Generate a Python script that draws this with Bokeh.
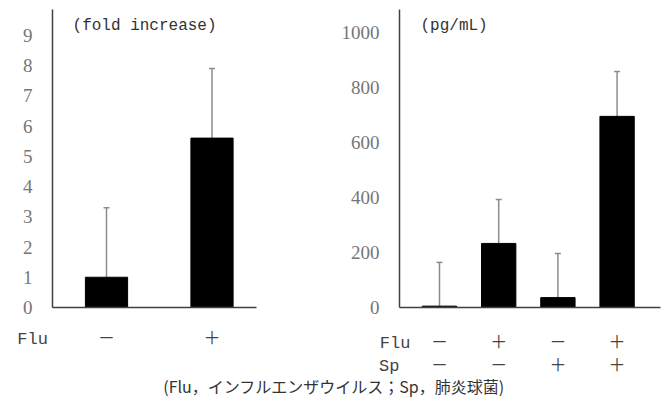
from bokeh.plotting import figure
from bokeh.models import (ColumnDataSource, Whisker, TeeHead, Label, FixedTicker, Range1d,
                          LinearAxis)
from bokeh.embed import file_html
from bokeh.resources import INLINE

# ---- data ----
left_x = [1, 2]
left_flu = ["－", "＋"]
left_mean = [1.0, 5.6]
left_sd = [2.3, 2.3]
left_ticks = [0, 1, 2, 3, 4, 5, 6, 7, 8, 9]
left_unit = "(fold increase)"

right_x = [1, 2, 3, 4]
right_flu = ["－", "＋", "－", "＋"]
right_sp = ["－", "－", "＋", "＋"]
right_mean = [5, 233, 36, 695]
right_sd = [159, 160, 160, 163]
right_ticks = [0, 200, 400, 600, 800, 1000]
right_unit = "(pg/mL)"

caption = "(Flu，インフルエンザウイルス；Sp，肺炎球菌)"

AX = "#404040"
TICK = "#767676"
ERR = "#8c8c8c"
SIGN_FONT = "Liberation Mono, Noto Sans CJK JP"

# one canvas, two coordinate systems (left panel: default ranges, right panel: "r")
p = figure(width=667, height=408, toolbar_location=None, output_backend="svg",
           x_range=Range1d(-0.00474, 6.3175), y_range=Range1d(-3.339, 10.149),
           x_axis_type=None, y_axis_type=None)
p.extra_x_ranges = {"r": Range1d(-6.4155, 4.8514)}
p.extra_y_ranges = {"r": Range1d(-367.27, 1116.36)}
p.min_border = 0
p.outline_line_color = None
p.grid.grid_line_color = None


def panel(xs, means, sds, bw, rn):
    kw = {} if rn is None else dict(x_range_name=rn, y_range_name=rn)
    src = ColumnDataSource(dict(x=xs, top=means, upper=[m + s for m, s in zip(means, sds)]))
    p.add_layout(Whisker(source=src, base="x", lower="top", upper="upper",
                         line_color=ERR, line_width=1.5,
                         upper_head=TeeHead(size=6, line_color=ERR, line_width=1.5),
                         lower_head=None, **kw))
    p.vbar(x="x", top="top", width=bw, bottom=0, source=src,
           fill_color="black", line_color="black", **kw)


def yaxis(loc, top, ticks, rn):
    kw = {} if rn is None else dict(x_range_name=rn, y_range_name=rn)
    a = LinearAxis(fixed_location=loc, bounds=(0, top), ticker=FixedTicker(ticks=ticks), **kw)
    a.axis_line_color = AX
    a.axis_line_width = 1.5
    a.major_tick_line_color = None
    a.minor_tick_line_color = None
    a.major_label_text_font = "Liberation Serif"
    a.major_label_text_font_size = "19px"
    a.major_label_text_color = TICK
    a.major_label_standoff = 14
    p.add_layout(a, "left")


def baseline(x0, x1, rn):
    kw = {} if rn is None else dict(x_range_name=rn, y_range_name=rn)
    a = LinearAxis(fixed_location=0, bounds=(x0, x1), ticker=FixedTicker(ticks=[]), **kw)
    a.axis_line_color = AX
    a.axis_line_width = 1.5
    a.major_tick_line_color = None
    a.minor_tick_line_color = None
    p.add_layout(a, "below")


def label_row(header_x, header, xs, signs, standoff, rn):
    kw = {} if rn is None else dict(x_range_name=rn, y_range_name=rn)
    ticks = [header_x] + list(xs)
    a = LinearAxis(fixed_location=0, ticker=FixedTicker(ticks=ticks), **kw)
    a.major_label_overrides = {t: s for t, s in zip(ticks, [header] + list(signs))}
    a.axis_line_color = None
    a.major_tick_line_color = None
    a.minor_tick_line_color = None
    a.major_label_text_font = SIGN_FONT
    a.major_label_text_font_size = "17px"
    a.major_label_text_color = "#444444"
    a.major_label_standoff = standoff
    p.add_layout(a, "below")


# left panel
panel(left_x, left_mean, left_sd, 0.4, None)
yaxis(0.48815, 9.851, left_ticks, None)
baseline(0.48815, 2.4218, None)
label_row(0.3, "Flu", left_x, left_flu, 17, None)

# right panel
panel(right_x, right_mean, right_sd, 0.58, "r")
yaxis(0.32432, 1083.6, right_ticks, "r")
baseline(0.32432, 4.7331, "r")
label_row(0.25, "Flu", right_x, right_flu, 20, "r")
label_row(0.15, "Sp", right_x, right_sp, 43, "r")

mono = "Liberation Mono"
p.add_layout(Label(x=0.678, y=9.32, text=left_unit, text_font=mono, text_font_size="16px",
                   text_color="#333333", text_align="left", text_baseline="middle"))
p.add_layout(Label(x=0.679, y=1025, text=right_unit, text_font=mono, text_font_size="16px",
                   text_color="#333333", text_align="left", text_baseline="middle",
                   x_range_name="r", y_range_name="r"))
p.add_layout(Label(x=3.156, y=-2.579, text=caption, text_font="Noto Sans CJK JP",
                   text_font_size="16px", text_color="#333333",
                   text_align="center", text_baseline="middle"))

open("out.html", "w").write(file_html(p, INLINE))
